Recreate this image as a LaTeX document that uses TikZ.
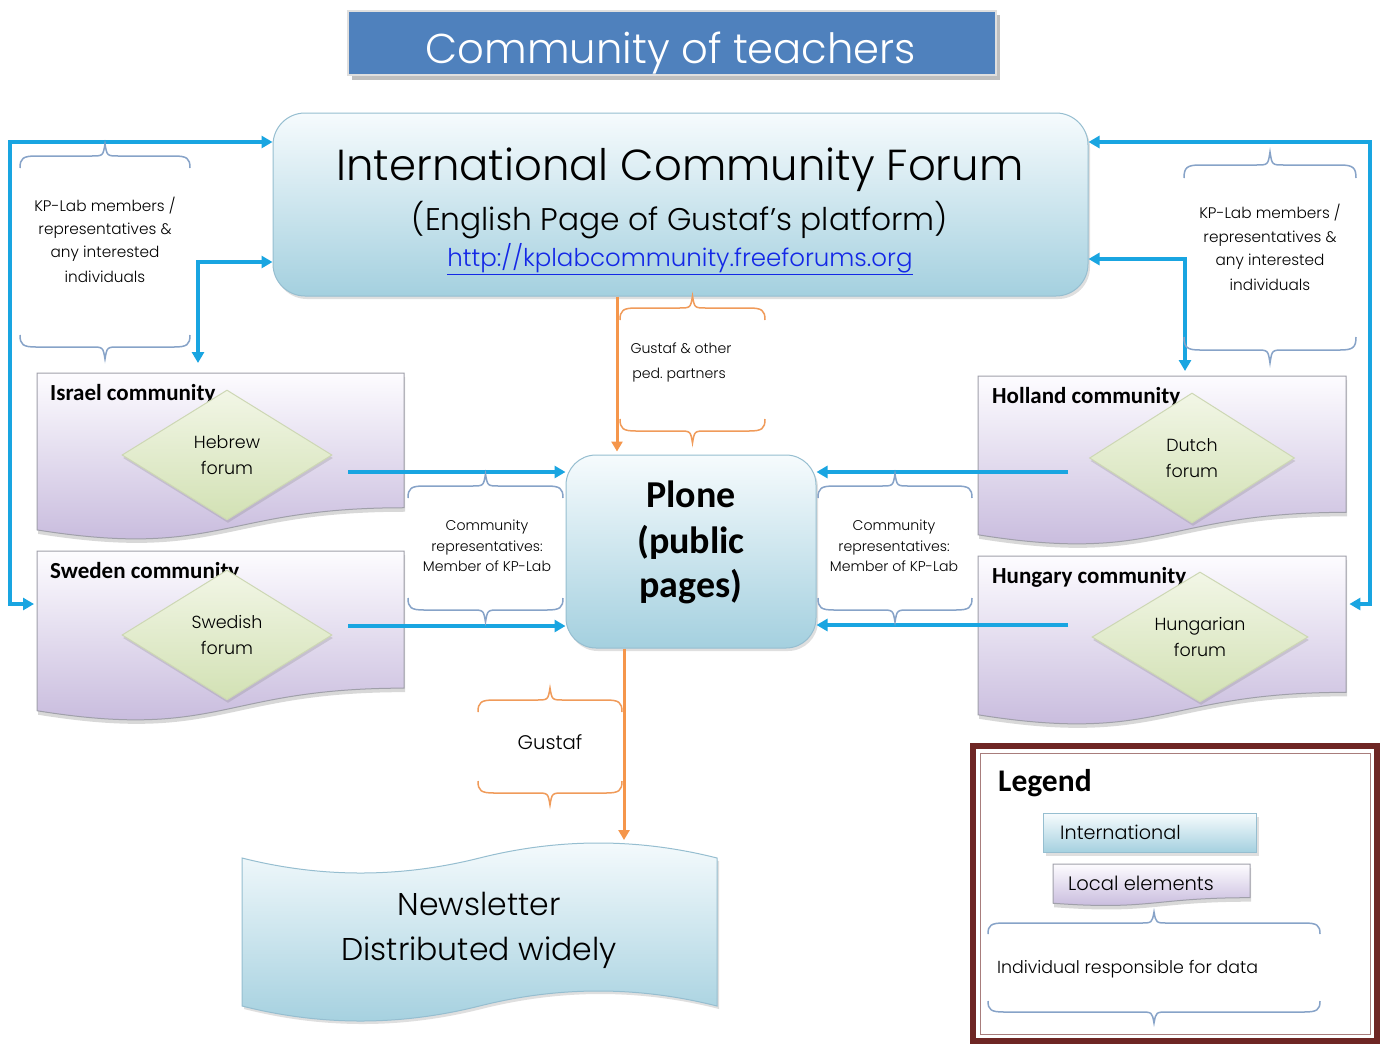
\documentclass[tikz,border=0pt]{standalone}
\usepackage{fontspec}
\setmainfont{Poppins}[UprightFont=* Light]
\newfontfamily\headface{Carlito}
\usetikzlibrary{arrows.meta,shapes.geometric,shadows,calc}

\definecolor{arrowblue}{RGB}{25,165,225}
\definecolor{braceblue}{RGB}{135,163,200}
\definecolor{braceorange}{RGB}{240,155,90}
\definecolor{arroworange}{RGB}{245,150,75}
\definecolor{titleblue}{RGB}{79,129,189}
\definecolor{icetop}{RGB}{246,251,253}
\definecolor{icebottom}{RGB}{164,208,223}
\definecolor{iceedge}{RGB}{150,190,208}
\definecolor{lavtop}{RGB}{253,252,255}
\definecolor{lavbottom}{RGB}{195,181,218}
\definecolor{docedge}{RGB}{160,160,170}
\definecolor{leaftop}{RGB}{242,246,230}
\definecolor{leafbottom}{RGB}{210,225,180}
\definecolor{leafedge}{RGB}{205,215,180}
\definecolor{linkblue}{RGB}{20,40,230}
\definecolor{legendframe}{RGB}{110,38,36}

% wavy-bottom "document" outline at (x,y) with width w and height h
\newcommand{\docoutline}[5]{%
  \path[#1] (#2,#3) -- ({#2+#4},#3) -- ({#2+#4},{#3+0.802*#5})
    .. controls ({#2+0.5*#4},{#3+0.802*#5}) and ({#2+0.5*#4},{#3+1.1075*#5})
    .. (#2,{#3+0.934*#5}) -- cycle;}

% horizontal curly brace from x1 to x2 along y; positive h puts the tip up
\newcommand{\curlybrace}[5]{%
  \draw[#1] (#2,{#4+(#5)}) .. controls (#2,{#4+0.2*(#5)}) and ({#2+3},#4) .. ({#2+16},#4)
    -- ({(#2+#3)/2-14},#4) .. controls ({(#2+#3)/2-2},#4) .. ({(#2+#3)/2},{#4-(#5)})
    .. controls ({(#2+#3)/2+2},#4) .. ({(#2+#3)/2+14},#4)
    -- ({#3-16},#4) .. controls ({#3-3},#4) and (#3,{#4+0.2*(#5)}) .. (#3,{#4+(#5)});}

\begin{document}
\begin{tikzpicture}[x=1pt,y=-1pt,
  every node/.style={inner sep=0pt},
  txt/.style={anchor=base, inner sep=0pt},
  box/.style={anchor=north west, minimum width=#1, minimum height=10pt},
  icebox/.style={top color=icetop, bottom color=icebottom, draw=iceedge, line width=1pt,
    drop shadow={shadow xshift=2pt, shadow yshift=-3pt, opacity=.25}},
  lavdoc/.style={top color=lavtop, bottom color=lavbottom, draw=docedge, line width=1pt,
    drop shadow={shadow xshift=1pt, shadow yshift=-4pt, opacity=.3}},
  leaf/.style={diamond, top color=leaftop, bottom color=leafbottom, draw=leafedge, line width=1pt,
    minimum width=#1, minimum height=130pt, align=center,
    drop shadow={shadow xshift=1pt, shadow yshift=-3pt, opacity=.25},
    font=\fontsize{17.5}{25.5}\selectfont},
  barrow/.style={draw=arrowblue, line width=4pt, >={Triangle[length=11pt,width=12pt]}},
  oarrow/.style={draw=arroworange, line width=3pt, >={Triangle[length=10pt,width=11pt]}},
  bbrace/.style={draw=braceblue, line width=1.5pt},
  obrace/.style={draw=braceorange, line width=1.5pt},
  small/.style={txt, font=\fontsize{15.3}{17}\selectfont},
  tiny/.style={txt, font=\fontsize{14.1}{16}\selectfont},
  headlabel/.style={txt, anchor=base west, font=\headface\bfseries\fontsize{23}{25}\selectfont}]

\useasboundingbox (0,0) rectangle (1384,1045);
\fill[white] (0,0) rectangle (1384,1045);

% ---- title bar ----
\fill[gray!50] (352,15) rectangle (1000,80);
\node[fill=titleblue, draw=gray!25, line width=1.5pt, minimum width=648pt, minimum height=64pt] (title) at (672,43) {};
\node[txt, text=white, font=\fontsize{41.7}{44}\selectfont] (titleT) at (671,63) {Community of teachers};

% ---- international forum ----
\node[icebox, rounded corners=32pt, minimum width=815pt, minimum height=183pt] (icf) at (680.5,204.5) {};
\node[txt, font=\fontsize{43.4}{46}\selectfont] (icfT1) at (680,180) {International Community Forum};
\node[txt, font=\fontsize{31.3}{34}\selectfont] (icfT2) at (680,230) {(English Page of Gustaf's platform)};
\node[txt, text=linkblue, font=\fontsize{24.5}{26}\selectfont] (icfT3) at (680,266) {\underline{http://kplabcommunity.freeforums.org}};

% ---- Plone ----
\node[icebox, rounded corners=30pt, minimum width=250pt, minimum height=193pt] (plone) at (691,551.5) {};
\node[txt, font=\headface\bfseries\fontsize{38}{42}\selectfont] (ploneT1) at (691,507) {Plone};
\node[txt, font=\headface\bfseries\fontsize{38}{42}\selectfont] (ploneT2) at (691,553) {(public};
\node[txt, font=\headface\bfseries\fontsize{38}{42}\selectfont] (ploneT3) at (691,597) {pages)};

% ---- local communities ----
\docoutline{lavdoc}{37}{373}{367}{168}
\docoutline{lavdoc}{37}{551}{367}{171}
\docoutline{lavdoc}{978}{376}{368}{170}
\docoutline{lavdoc}{978}{556}{368}{170}
\node[box=367pt, minimum height=157pt] (israel) at (37,373) {};
\node[box=367pt, minimum height=160pt] (sweden) at (37,551) {};
\node[box=368pt, minimum height=159pt] (holland) at (978,376) {};
\node[box=368pt, minimum height=159pt] (hungary) at (978,556) {};

\node[headlabel] (israelT) at (50,400) {Israel community};
\node[headlabel] (swedenT) at (50,578) {Sweden community};
\node[headlabel] (hollandT) at (992,403) {Holland community};
\node[headlabel] (hungaryT) at (992,583) {Hungary community};

\node[leaf=210pt] (hebrew) at (227,455) {Hebrew\\forum};
\node[leaf=210pt] (swedish) at (227,635) {Swedish\\forum};
\node[leaf=205pt] (dutch) at (1192,458) {Dutch\\forum};
\node[leaf=216pt] (hungarian) at (1200,637) {Hungarian\\forum};

% ---- newsletter ----
\path[icebox] (242,858) .. controls (321,878) and (400,878) .. (479.5,858)
  .. controls (559,838) and (638,838) .. (717,858) -- (717,1006)
  .. controls (638,986) and (559,986) .. (479.5,1006)
  .. controls (400,1026) and (321,1026) .. (242,1006) -- cycle;
\node[box=475pt, minimum height=178pt] (news) at (242,843) {};
\node[txt, font=\fontsize{31.5}{34}\selectfont] (newsT1) at (479,915) {Newsletter};
\node[txt, font=\fontsize{31.5}{34}\selectfont] (newsT2) at (479,960) {Distributed widely};

% ---- blue connectors ----
\coordinate (lt) at (10,142);
\coordinate (lb) at (10,604);
\coordinate (rt) at (1370,142);
\coordinate (rb) at (1370,604);
\coordinate (li) at (198,262);
\coordinate (ri) at (1185,259);
\draw[barrow,<->] (lt -| icf.west) -- (lt) -- (lb) -- ([xshift=-3pt]lb -| sweden.west);
\draw[barrow,<->] (rt -| icf.east) -- (rt) -- (rb) -- ([xshift=3pt]rb -| hungary.east);
\draw[barrow,<->] (li -| icf.west) -- (li) -- ([yshift=10pt]li |- israel.north);
\draw[barrow,<->] (ri -| icf.east) -- (ri) -- ([yshift=5pt]ri |- holland.north);

\coordinate (hebOut) at (348,472);
\coordinate (sweOut) at (348,626);
\coordinate (dutOut) at (1068,472);
\coordinate (hunOut) at (1068,625);
\draw[barrow,->] (hebOut) -- (hebOut -| plone.west);
\draw[barrow,->] (sweOut) -- (sweOut -| plone.west);
\draw[barrow,->] (dutOut) -- (dutOut -| plone.east);
\draw[barrow,->] (hunOut) -- (hunOut -| plone.east);

% ---- orange connectors ----
\coordinate (ox1) at (617,300);
\coordinate (ox2) at (624,700);
\draw[oarrow,->] (icf.south -| ox1) -- ([yshift=3pt]plone.north -| ox1);
\draw[oarrow,->] (plone.south -| ox2) -- ([yshift=3pt]news.north -| ox2);

% ---- braces and their labels ----
\curlybrace{bbrace}{20}{190}{156}{12}
\curlybrace{bbrace}{20}{190}{347}{-12}
\node[small] (lnote1) at (105,211) {KP-Lab members /};
\node[small] (lnote2) at (105,234) {representatives \&};
\node[small] (lnote3) at (105,257) {any interested};
\node[small] (lnote4) at (105,282) {individuals};

\curlybrace{bbrace}{1184}{1356}{165}{13}
\curlybrace{bbrace}{1184}{1356}{350}{-13}
\node[small] (rnote1) at (1270,218) {KP-Lab members /};
\node[small] (rnote2) at (1270,242) {representatives \&};
\node[small] (rnote3) at (1270,265) {any interested};
\node[small] (rnote4) at (1270,290) {individuals};

\curlybrace{bbrace}{408}{563}{486}{12}
\curlybrace{bbrace}{408}{563}{610}{-12}
\node[tiny] (crl1) at (487,530) {Community};
\node[tiny] (crl2) at (487,551) {representatives:};
\node[tiny] (crl3) at (487,571) {Member of KP-Lab};

\curlybrace{bbrace}{818}{972}{486}{12}
\curlybrace{bbrace}{818}{972}{610}{-12}
\node[tiny] (crr1) at (894,530) {Community};
\node[tiny] (crr2) at (894,551) {representatives:};
\node[tiny] (crr3) at (894,571) {Member of KP-Lab};

\curlybrace{obrace}{620}{765}{308}{12}
\curlybrace{obrace}{620}{765}{431}{-12}
\node[tiny] (gp1) at (681,353) {Gustaf \& other};
\node[tiny] (gp2) at (679,378) {ped.\ partners};

\curlybrace{obrace}{478}{622}{700}{12}
\curlybrace{obrace}{478}{622}{793}{-12}
\node[txt, font=\fontsize{19.7}{21}\selectfont] (gus) at (550,749) {Gustaf};

% ---- legend ----
\draw[legendframe, line width=6pt] (973,746) rectangle (1377,1041);
\draw[legendframe!60, line width=1pt] (980,753) rectangle (1370,1034);
\node[headlabel, font=\headface\bfseries\fontsize{31.5}{34}\selectfont] (legT) at (998,791) {Legend};
\node[icebox, anchor=north west, minimum width=213pt, minimum height=39pt] (legInt) at (1043,813) {};
\node[txt, anchor=base west, font=\fontsize{19.2}{21}\selectfont] (legIntT) at (1060,839) {International};
\docoutline{lavdoc}{1053}{864}{197}{42}
\node[box=197pt, minimum height=39pt] (legLoc) at (1053,864) {};
\node[txt, anchor=base west, font=\fontsize{19.5}{21}\selectfont] (legLocT) at (1068,890) {Local elements};
\curlybrace{bbrace}{988}{1320}{923}{11}
\curlybrace{bbrace}{988}{1320}{1012}{-11}
\node[txt, anchor=base west, font=\fontsize{17.4}{19}\selectfont] (legBrT) at (997,973) {Individual responsible for data};

\end{tikzpicture}
\end{document}
